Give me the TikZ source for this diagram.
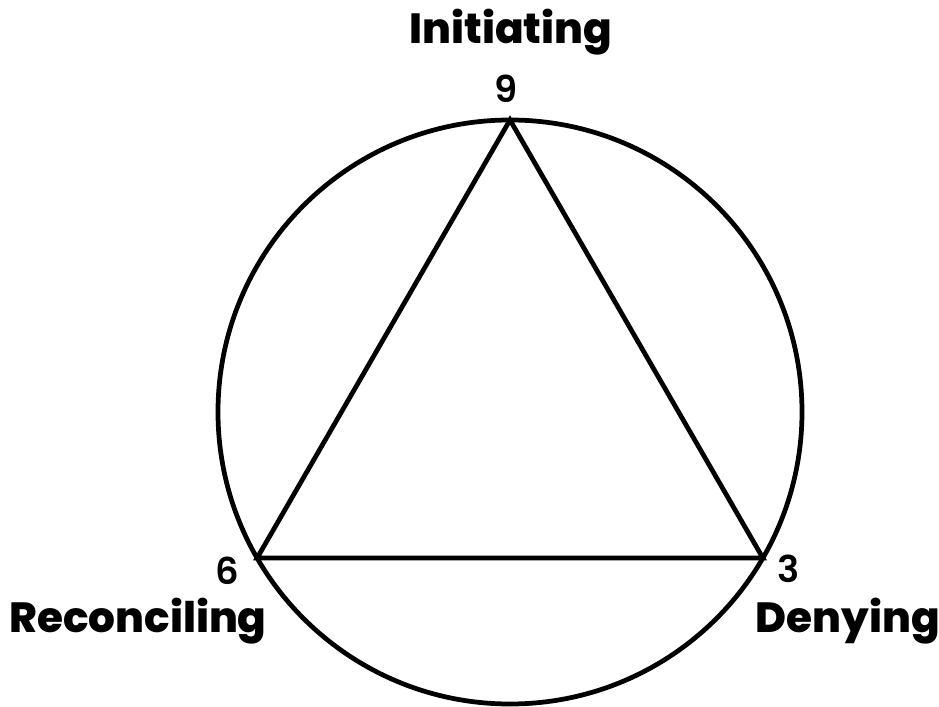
\documentclass[tikz,border=0pt]{standalone}
\usepackage{fontspec}
\setmainfont{Poppins}
\newfontfamily\heavyfont{Poppins ExtraBold}
\newfontfamily\midfont{Poppins SemiBold}
\usetikzlibrary{positioning}

\begin{document}
\begin{tikzpicture}[
        x=0.02cm, y=0.02cm,
        ring/.style={draw=black, line width=2.7pt},
        edge/.style={draw=black, line width=2.7pt, line join=miter},
        force/.style={font=\fontsize{24}{28}\selectfont\heavyfont, anchor=base},
        num/.style={font=\fontsize{21}{24}\selectfont\midfont, inner sep=0pt}
      ]
        \useasboundingbox (-510,-294) rectangle (429,412);

        % Circle and vertices
        \coordinate (centre) at (0,0);
        \coordinate (nine) at (90:292);
        \coordinate (six) at (210:292);
        \coordinate (three) at (330:292);
        \draw[ring] (centre) circle (292);

        % Triangle
        \draw[edge] (nine) -- (three) -- (six) -- cycle;

        % Numbers
        \node[num, above=10pt of nine, xshift=-2] (n9) {9};
        \node[num, left=10pt of six, yshift=-7] (n6) {6};
        \node[num, right=8pt of three, yshift=-6] (n3) {3};

        % Labels
        \node[force] (initiating) at (1,368) {Initiating};
        \node[force] (reconciling) at (-372,-220) {Reconciling};
        \node[force] (denying) at (338,-220) {Denying};
      \end{tikzpicture}
\end{document}
